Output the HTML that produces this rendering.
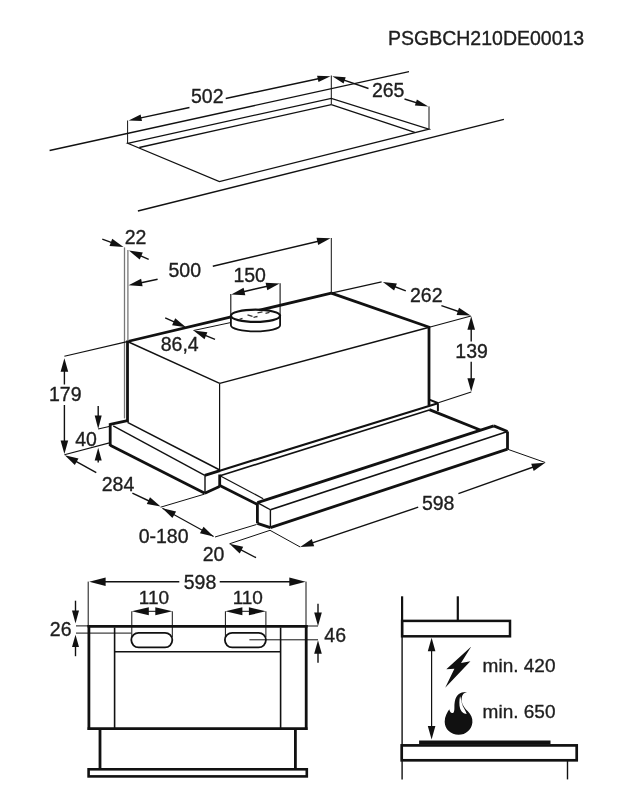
<!DOCTYPE html>
<html><head><meta charset="utf-8"><style>
html,body{margin:0;padding:0;background:#fff;}
svg{display:block;filter:grayscale(100%);}
text{font-family:"Liberation Sans",sans-serif;fill:#1e1e1e;stroke:#1e1e1e;stroke-width:0.35px;}
</style></head><body>
<svg width="623" height="800" viewBox="0 0 623 800">
<rect width="623" height="800" fill="#fff"/>
<text x="388.0" y="44.6" text-anchor="start" font-size="19.5" letter-spacing="0">PSGBCH210DE00013</text>
<line x1="49.6" y1="150.5" x2="409.0" y2="71.6" stroke="#111" stroke-width="1.4"/>
<line x1="137.9" y1="211.0" x2="503.9" y2="119.4" stroke="#111" stroke-width="1.4"/>
<polygon points="127.7,143.3 331.3,98.3 428.9,129.2 219.4,181.6" fill="none" stroke="#111" stroke-width="1.3" stroke-linejoin="miter"/>
<line x1="139.3" y1="147.5" x2="331.3" y2="104.6" stroke="#111" stroke-width="1.3"/>
<line x1="331.3" y1="104.6" x2="414.8" y2="132.4" stroke="#111" stroke-width="1.3"/>
<line x1="331.3" y1="75.5" x2="331.3" y2="104.6" stroke="#111" stroke-width="1.0"/>
<line x1="127.6" y1="120.5" x2="127.6" y2="143.3" stroke="#111" stroke-width="1.0"/>
<line x1="429.0" y1="106.4" x2="429.0" y2="129.2" stroke="#111" stroke-width="1.0"/>
<line x1="189.5" y1="107.5" x2="136.2" y2="118.9" stroke="#111" stroke-width="1.4"/>
<polygon points="128.6,120.5 140.6,114.6 142.0,121.0" fill="#111"/>
<line x1="225.7" y1="98.5" x2="322.9" y2="77.8" stroke="#111" stroke-width="1.4"/>
<polygon points="330.5,76.2 318.5,82.1 317.1,75.7" fill="#111"/>
<text x="207.3" y="103.3" text-anchor="middle" font-size="19.5" letter-spacing="0">502</text>
<line x1="368.5" y1="88.5" x2="339.7" y2="78.7" stroke="#111" stroke-width="1.4"/>
<polygon points="332.3,76.2 345.7,77.3 343.6,83.5" fill="#111"/>
<line x1="404.5" y1="99.0" x2="420.9" y2="104.1" stroke="#111" stroke-width="1.4"/>
<polygon points="428.3,106.4 414.9,105.6 416.9,99.4" fill="#111"/>
<text x="388.2" y="96.6" text-anchor="middle" font-size="19.5" letter-spacing="0">265</text>
<line x1="127.5" y1="341.5" x2="331.3" y2="293.1" stroke="#111" stroke-width="2.8"/>
<line x1="331.3" y1="293.1" x2="429.3" y2="327.2" stroke="#111" stroke-width="2.8"/>
<line x1="127.5" y1="341.5" x2="219.7" y2="383.4" stroke="#111" stroke-width="1.4"/>
<line x1="219.7" y1="383.4" x2="429.3" y2="327.2" stroke="#111" stroke-width="1.4"/>
<line x1="127.5" y1="340.5" x2="127.5" y2="422.0" stroke="#111" stroke-width="2.8"/>
<line x1="429.0" y1="326.0" x2="429.0" y2="405.5" stroke="#111" stroke-width="2.8"/>
<line x1="219.6" y1="383.4" x2="219.6" y2="470.2" stroke="#111" stroke-width="1.2"/>
<line x1="124.5" y1="247.4" x2="124.5" y2="418.4" stroke="#777" stroke-width="1.3"/>
<line x1="127.9" y1="250.0" x2="127.9" y2="341.0" stroke="#777" stroke-width="1.3"/>
<line x1="102.3" y1="239.1" x2="115.9" y2="244.2" stroke="#111" stroke-width="1.4"/>
<polygon points="123.5,247.1 109.5,245.9 112.2,238.8" fill="#111"/>
<line x1="148.7" y1="259.4" x2="136.3" y2="253.9" stroke="#111" stroke-width="1.4"/>
<polygon points="128.9,250.6 142.8,252.6 139.7,259.6" fill="#111"/>
<text x="135.5" y="243.8" text-anchor="middle" font-size="19.5" letter-spacing="0">22</text>
<line x1="157.6" y1="279.3" x2="136.5" y2="283.7" stroke="#111" stroke-width="1.4"/>
<polygon points="128.6,285.3 141.1,278.8 142.6,286.3" fill="#111"/>
<line x1="212.8" y1="266.2" x2="322.6" y2="240.2" stroke="#111" stroke-width="1.4"/>
<polygon points="330.5,238.3 318.2,245.1 316.5,237.7" fill="#111"/>
<line x1="331.3" y1="238.0" x2="331.3" y2="293.1" stroke="#111" stroke-width="1.0"/>
<text x="184.8" y="277.1" text-anchor="middle" font-size="19.5" letter-spacing="0">500</text>
<path d="M230.9,315.8 L230.9,325.2 A24.6,6.1 0 0 0 280.1,325.2 L280.1,315.8" fill="#fff" stroke="#111" stroke-width="1.8"/>
<ellipse cx="255.5" cy="315.8" rx="24.6" ry="6.1" fill="#fff" stroke="#111" stroke-width="2.2"/>
<path d="M239.5,319.3 l3,-1 M247.5,314.8 l5,1.5 M257.5,312.8 l5,-1 M253.5,317.3 l4,-0.8 M265.5,313.3 l4,-1" stroke="#333" stroke-width="1.3"/>
<line x1="230.8" y1="294.0" x2="230.8" y2="316.0" stroke="#111" stroke-width="1.1"/>
<line x1="280.1" y1="283.3" x2="280.1" y2="316.0" stroke="#111" stroke-width="1.1"/>
<line x1="255.0" y1="289.0" x2="239.2" y2="292.7" stroke="#111" stroke-width="1.4"/>
<polygon points="231.3,294.6 243.6,287.8 245.3,295.2" fill="#111"/>
<line x1="255.0" y1="289.0" x2="271.7" y2="285.3" stroke="#111" stroke-width="1.4"/>
<polygon points="279.6,283.5 267.3,290.2 265.6,282.7" fill="#111"/>
<text x="249.7" y="281.6" text-anchor="middle" font-size="19.5" letter-spacing="0">150</text>
<line x1="165.2" y1="317.9" x2="178.6" y2="323.9" stroke="#111" stroke-width="1.4"/>
<polygon points="186.0,327.2 172.1,325.2 175.2,318.2" fill="#111"/>
<line x1="215.0" y1="339.4" x2="201.0" y2="333.6" stroke="#111" stroke-width="1.4"/>
<polygon points="193.5,330.5 207.4,332.2 204.5,339.2" fill="#111"/>
<line x1="193.5" y1="330.5" x2="230.5" y2="322.6" stroke="#111" stroke-width="1.0"/>
<text x="179.7" y="350.5" text-anchor="middle" font-size="19.5" letter-spacing="0">86,4</text>
<line x1="331.3" y1="293.1" x2="381.6" y2="281.9" stroke="#111" stroke-width="1.1"/>
<line x1="429.3" y1="327.2" x2="471.0" y2="316.0" stroke="#111" stroke-width="1.1"/>
<line x1="405.8" y1="290.9" x2="390.5" y2="285.0" stroke="#111" stroke-width="1.4"/>
<polygon points="382.9,282.1 396.9,283.4 394.1,290.5" fill="#111"/>
<line x1="441.4" y1="305.7" x2="462.9" y2="313.0" stroke="#111" stroke-width="1.4"/>
<polygon points="470.6,315.6 456.6,314.9 459.0,307.7" fill="#111"/>
<text x="426.3" y="301.6" text-anchor="middle" font-size="19.5" letter-spacing="0">262</text>
<line x1="471.2" y1="341.5" x2="471.2" y2="324.4" stroke="#111" stroke-width="1.4"/>
<polygon points="471.2,316.3 475.0,329.8 467.4,329.8" fill="#111"/>
<line x1="471.2" y1="361.8" x2="471.2" y2="383.7" stroke="#111" stroke-width="1.4"/>
<polygon points="471.2,391.8 467.4,378.3 475.0,378.3" fill="#111"/>
<line x1="471.2" y1="392.0" x2="438.3" y2="402.8" stroke="#111" stroke-width="1.1"/>
<text x="471.6" y="358.4" text-anchor="middle" font-size="19.5" letter-spacing="0">139</text>
<line x1="127.2" y1="341.6" x2="64.4" y2="356.3" stroke="#111" stroke-width="1.1"/>
<line x1="64.4" y1="384.5" x2="64.4" y2="366.3" stroke="#111" stroke-width="1.4"/>
<polygon points="64.4,358.2 68.2,371.7 60.6,371.7" fill="#111"/>
<line x1="64.4" y1="405.0" x2="64.4" y2="445.9" stroke="#111" stroke-width="1.4"/>
<polygon points="64.4,454.0 60.6,440.5 68.2,440.5" fill="#111"/>
<text x="65.3" y="400.9" text-anchor="middle" font-size="19.5" letter-spacing="0">179</text>
<line x1="98.2" y1="406.0" x2="98.2" y2="420.8" stroke="#111" stroke-width="1.4"/>
<polygon points="98.2,428.9 94.7,415.4 101.7,415.4" fill="#111"/>
<line x1="98.2" y1="462.6" x2="98.2" y2="455.4" stroke="#111" stroke-width="1.4"/>
<polygon points="98.2,447.8 101.7,460.5 94.7,460.5" fill="#111"/>
<line x1="98.2" y1="429.0" x2="110.2" y2="426.2" stroke="#111" stroke-width="1.1"/>
<line x1="64.4" y1="454.8" x2="110.4" y2="442.6" stroke="#111" stroke-width="1.1"/>
<text x="86.0" y="446.3" text-anchor="middle" font-size="19.5" letter-spacing="0">40</text>
<line x1="110.2" y1="424.4" x2="127.5" y2="420.6" stroke="#111" stroke-width="2.8"/>
<line x1="110.2" y1="423.2" x2="110.2" y2="446.0" stroke="#111" stroke-width="2.8"/>
<line x1="110.2" y1="445.2" x2="204.8" y2="493.3" stroke="#111" stroke-width="2.8"/>
<line x1="113.2" y1="425.9" x2="204.8" y2="475.3" stroke="#111" stroke-width="1.4"/>
<line x1="205.0" y1="475.3" x2="205.0" y2="492.5" stroke="#111" stroke-width="1.4"/>
<line x1="127.5" y1="422.4" x2="219.3" y2="469.7" stroke="#111" stroke-width="1.6"/>
<line x1="204.8" y1="493.3" x2="219.5" y2="486.5" stroke="#111" stroke-width="2.8"/>
<line x1="204.8" y1="475.3" x2="220.0" y2="470.6" stroke="#111" stroke-width="2.8"/>
<line x1="219.0" y1="470.9" x2="437.9" y2="403.3" stroke="#111" stroke-width="2.1"/>
<line x1="220.0" y1="475.8" x2="429.3" y2="410.0" stroke="#111" stroke-width="1.7"/>
<line x1="219.7" y1="474.5" x2="219.7" y2="486.0" stroke="#111" stroke-width="2.8"/>
<line x1="220.0" y1="475.7" x2="263.2" y2="498.7" stroke="#111" stroke-width="1.3"/>
<line x1="219.3" y1="485.3" x2="257.4" y2="504.5" stroke="#111" stroke-width="2.8"/>
<line x1="429.3" y1="409.6" x2="480.2" y2="430.0" stroke="#111" stroke-width="2.8"/>
<line x1="429.3" y1="399.6" x2="438.3" y2="403.2" stroke="#111" stroke-width="2.0"/>
<line x1="437.9" y1="403.2" x2="437.9" y2="411.2" stroke="#111" stroke-width="2.0"/>
<line x1="257.4" y1="502.6" x2="493.8" y2="425.9" stroke="#111" stroke-width="2.8"/>
<line x1="270.4" y1="509.8" x2="507.5" y2="431.5" stroke="#111" stroke-width="1.6"/>
<line x1="270.4" y1="527.6" x2="507.5" y2="449.2" stroke="#111" stroke-width="2.8"/>
<line x1="257.4" y1="502.6" x2="270.4" y2="509.8" stroke="#111" stroke-width="1.3"/>
<line x1="270.4" y1="509.8" x2="270.4" y2="527.6" stroke="#111" stroke-width="1.4"/>
<line x1="257.4" y1="502.6" x2="257.4" y2="523.3" stroke="#111" stroke-width="2.8"/>
<line x1="257.4" y1="523.3" x2="270.4" y2="527.6" stroke="#111" stroke-width="2.8"/>
<line x1="493.8" y1="425.9" x2="507.5" y2="431.5" stroke="#111" stroke-width="2.8"/>
<line x1="507.5" y1="431.5" x2="507.5" y2="449.2" stroke="#111" stroke-width="2.8"/>
<line x1="96.3" y1="472.6" x2="71.9" y2="459.2" stroke="#111" stroke-width="1.4"/>
<polygon points="64.8,455.3 78.5,458.5 74.8,465.1" fill="#111"/>
<line x1="132.4" y1="493.1" x2="153.3" y2="503.0" stroke="#111" stroke-width="1.4"/>
<polygon points="160.6,506.5 146.8,504.1 150.0,497.3" fill="#111"/>
<line x1="160.6" y1="507.2" x2="204.6" y2="494.1" stroke="#111" stroke-width="1.0"/>
<text x="118.0" y="490.6" text-anchor="middle" font-size="19.5" letter-spacing="0">284</text>
<polygon points="162.4,508.3 176.1,511.5 172.4,518.1" fill="#111"/>
<polygon points="213.6,536.5 199.9,533.3 203.6,526.7" fill="#111"/>
<line x1="162.4" y1="508.3" x2="213.6" y2="536.5" stroke="#111" stroke-width="1.2"/>
<line x1="215.0" y1="537.0" x2="256.5" y2="524.5" stroke="#111" stroke-width="1.0"/>
<text x="163.6" y="542.5" text-anchor="middle" font-size="19.5" letter-spacing="0">0-180</text>
<line x1="256.0" y1="557.7" x2="236.7" y2="547.6" stroke="#111" stroke-width="1.4"/>
<polygon points="229.5,543.8 243.2,546.7 239.7,553.4" fill="#111"/>
<line x1="229.5" y1="543.8" x2="270.0" y2="530.3" stroke="#111" stroke-width="1.0"/>
<text x="213.6" y="560.5" text-anchor="middle" font-size="19.5" letter-spacing="0">20</text>
<line x1="270.0" y1="530.3" x2="300.2" y2="547.0" stroke="#111" stroke-width="1.0"/>
<line x1="507.5" y1="449.2" x2="545.2" y2="462.5" stroke="#111" stroke-width="1.0"/>
<line x1="418.2" y1="507.2" x2="307.9" y2="544.4" stroke="#111" stroke-width="1.4"/>
<polygon points="300.2,547.0 311.8,539.1 314.2,546.3" fill="#111"/>
<line x1="458.4" y1="493.6" x2="537.6" y2="465.5" stroke="#111" stroke-width="1.4"/>
<polygon points="545.2,462.8 533.7,470.9 531.2,463.7" fill="#111"/>
<text x="438.2" y="509.6" text-anchor="middle" font-size="19.5" letter-spacing="0">598</text>
<line x1="88.2" y1="581.6" x2="88.2" y2="626.6" stroke="#111" stroke-width="1.0"/>
<line x1="306.0" y1="581.6" x2="306.0" y2="626.6" stroke="#111" stroke-width="1.0"/>
<line x1="179.3" y1="581.8" x2="99.0" y2="581.8" stroke="#111" stroke-width="1.4"/>
<polygon points="89.2,581.8 105.6,577.4 105.6,586.1" fill="#111"/>
<line x1="219.7" y1="581.8" x2="295.9" y2="581.8" stroke="#111" stroke-width="1.4"/>
<polygon points="305.7,581.8 289.3,586.1 289.3,577.4" fill="#111"/>
<text x="200.0" y="589.0" text-anchor="middle" font-size="19.5" letter-spacing="0">598</text>
<line x1="87.6" y1="626.3" x2="307.5" y2="626.3" stroke="#111" stroke-width="2.8"/>
<line x1="88.9" y1="625.0" x2="88.9" y2="730.0" stroke="#111" stroke-width="2.8"/>
<line x1="306.2" y1="625.0" x2="306.2" y2="730.0" stroke="#111" stroke-width="2.8"/>
<line x1="87.6" y1="728.7" x2="307.5" y2="728.7" stroke="#111" stroke-width="2.8"/>
<line x1="114.6" y1="627.5" x2="114.6" y2="728.0" stroke="#111" stroke-width="1.6"/>
<line x1="280.6" y1="627.5" x2="280.6" y2="728.0" stroke="#111" stroke-width="1.6"/>
<line x1="114.6" y1="651.8" x2="280.6" y2="651.8" stroke="#111" stroke-width="1.6"/>
<rect x="131.3" y="632.8" width="41" height="14.6" rx="7.3" fill="none" stroke="#111" stroke-width="1.8"/>
<line x1="131.8" y1="611.3" x2="131.8" y2="637.0" stroke="#111" stroke-width="1.0"/>
<line x1="172.3" y1="611.3" x2="172.3" y2="637.0" stroke="#111" stroke-width="1.0"/>
<polygon points="131.8,611.3 148.8,607.3 148.8,615.3" fill="#111"/>
<polygon points="172.3,611.3 155.3,615.3 155.3,607.3" fill="#111"/>
<line x1="141.3" y1="611.3" x2="162.3" y2="611.3" stroke="#111" stroke-width="1.0"/>
<text x="154.0" y="603.8" text-anchor="middle" font-size="19" letter-spacing="0">110</text>
<rect x="224.9" y="632.8" width="41" height="14.6" rx="7.3" fill="none" stroke="#111" stroke-width="1.8"/>
<line x1="225.4" y1="611.3" x2="225.4" y2="637.0" stroke="#111" stroke-width="1.0"/>
<line x1="265.9" y1="611.3" x2="265.9" y2="637.0" stroke="#111" stroke-width="1.0"/>
<polygon points="225.4,611.3 242.4,607.3 242.4,615.3" fill="#111"/>
<polygon points="265.9,611.3 248.9,615.3 248.9,607.3" fill="#111"/>
<line x1="234.9" y1="611.3" x2="255.9" y2="611.3" stroke="#111" stroke-width="1.0"/>
<text x="247.8" y="603.8" text-anchor="middle" font-size="19" letter-spacing="0">110</text>
<line x1="76.0" y1="625.9" x2="88.2" y2="625.9" stroke="#111" stroke-width="1.0"/>
<line x1="76.0" y1="633.1" x2="131.3" y2="633.1" stroke="#111" stroke-width="1.0"/>
<line x1="75.5" y1="600.7" x2="75.5" y2="615.7" stroke="#111" stroke-width="1.4"/>
<polygon points="75.5,623.4 72.0,610.6 79.0,610.6" fill="#111"/>
<line x1="75.5" y1="656.2" x2="75.5" y2="642.1" stroke="#111" stroke-width="1.4"/>
<polygon points="75.5,634.8 79.0,647.0 72.0,647.0" fill="#111"/>
<text x="60.7" y="636.2" text-anchor="middle" font-size="19.5" letter-spacing="0">26</text>
<line x1="306.0" y1="626.0" x2="318.0" y2="626.0" stroke="#111" stroke-width="1.0"/>
<line x1="249.4" y1="639.8" x2="318.0" y2="639.8" stroke="#111" stroke-width="1.0"/>
<line x1="318.0" y1="603.7" x2="318.0" y2="617.8" stroke="#111" stroke-width="1.4"/>
<polygon points="318.0,625.9 314.2,612.4 321.8,612.4" fill="#111"/>
<line x1="318.0" y1="662.7" x2="318.0" y2="648.4" stroke="#111" stroke-width="1.4"/>
<polygon points="318.0,640.3 321.8,653.8 314.2,653.8" fill="#111"/>
<text x="335.2" y="641.5" text-anchor="middle" font-size="19.5" letter-spacing="0">46</text>
<line x1="100.0" y1="729.0" x2="100.0" y2="769.5" stroke="#111" stroke-width="2.8"/>
<line x1="295.4" y1="729.0" x2="295.4" y2="769.5" stroke="#111" stroke-width="2.8"/>
<rect x="88.6" y="769.3" width="218.2" height="7.1" fill="none" stroke="#111" stroke-width="2.6"/>
<line x1="402.1" y1="596.3" x2="402.1" y2="637.0" stroke="#111" stroke-width="2.2"/>
<line x1="402.1" y1="637.0" x2="402.1" y2="779.4" stroke="#111" stroke-width="1.4"/>
<line x1="457.8" y1="596.3" x2="457.8" y2="621.0" stroke="#111" stroke-width="2.2"/>
<rect x="402.1" y="620.9" width="107.9" height="15.4" fill="none" stroke="#111" stroke-width="2.5"/>
<line x1="431.6" y1="645.0" x2="431.6" y2="732.0" stroke="#111" stroke-width="1.2"/>
<polygon points="431.6,637.8 435.4,651.3 427.8,651.3" fill="#111"/>
<polygon points="431.6,739.6 427.8,726.1 435.4,726.1" fill="#111"/>
<polygon points="419.1,744 419.1,740.4 550.5,740.4 550.5,744" fill="#111"/>
<rect x="401.7" y="745.4" width="175" height="14.9" fill="none" stroke="#111" stroke-width="2.7"/>
<line x1="567.5" y1="761.0" x2="567.5" y2="779.4" stroke="#111" stroke-width="1.4"/>
<polygon points="471.3,646.6 446.3,669.3 454.4,668.7 445.2,687.7 470.4,661.2 461,663" fill="#111"/>
<path d="M466.99,692.10 C464.00,692.70 461.90,694.80 461.60,698.40 C461.30,703.20 464.00,707.40 467.59,711.00 C471.19,714.60 472.69,718.19 472.39,722.39 C471.79,729.59 465.79,734.69 458.60,734.69 C450.80,734.69 444.80,729.59 444.68,721.79 C444.68,716.39 447.20,712.20 449.30,709.20 C449.60,711.00 450.50,713.10 452.30,713.10 C454.10,713.10 454.40,710.40 454.40,707.40 C454.40,700.80 455.60,696.60 458.60,694.20 C461.00,692.40 464.00,691.80 466.99,692.10 Z M460.10,696.30 C459.20,700.20 459.08,705.00 460.10,708.60 C461.00,711.60 463.40,714.00 466.69,714.00 C465.79,710.40 462.80,707.40 461.90,703.20 C461.30,700.20 460.70,697.80 460.10,696.30 Z" fill="#111" fill-rule="evenodd"/>
<text x="482.6" y="672.4" text-anchor="start" font-size="19" letter-spacing="0">min. 420</text>
<text x="482.6" y="718.2" text-anchor="start" font-size="19" letter-spacing="0">min. 650</text>
</svg>
</body></html>
